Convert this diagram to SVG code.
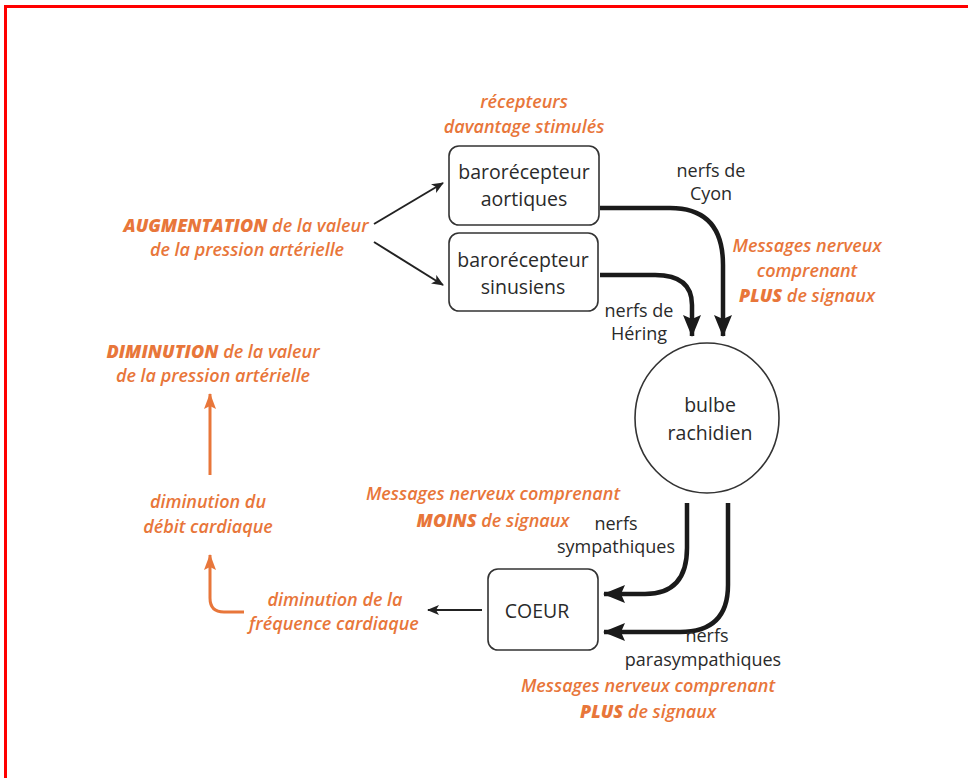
<svg xmlns="http://www.w3.org/2000/svg" width="968" height="778" viewBox="0 0 968 778">
<style>
.bk{font-family:"Open Sans","Liberation Sans",sans-serif;font-size:19.5px;fill:#2a2a2a;text-anchor:middle}
.sm{font-family:"Open Sans","Liberation Sans",sans-serif;font-size:18px;fill:#2a2a2a;text-anchor:middle}
.or{font-family:"Open Sans","Liberation Sans",sans-serif;font-size:18px;font-style:italic;font-weight:600;fill:#E8763A;text-anchor:middle}
.b{font-weight:800}
.box{fill:#fff;stroke:#333;stroke-width:1.6}
.thin{fill:none;stroke:#222;stroke-width:2}
.thick{fill:none;stroke:#1a1a1a;stroke-width:4.5}
.org{fill:none;stroke:#E8763A;stroke-width:3}
</style>
<defs>
<marker id="ah" viewBox="0 0 12 10" refX="11" refY="5" markerWidth="12" markerHeight="10" markerUnits="userSpaceOnUse" orient="auto">
<path d="M0,0 L12,5 L0,10 L3,5 Z" fill="#222"/>
</marker>
<marker id="ahT" viewBox="0 0 22 18" refX="21" refY="9" markerWidth="22" markerHeight="18" markerUnits="userSpaceOnUse" orient="auto">
<path d="M0,0 L22,9 L0,18 L4,9 Z" fill="#1a1a1a"/>
</marker>
<marker id="ahO" viewBox="0 0 16 12" refX="15" refY="6" markerWidth="16" markerHeight="12" markerUnits="userSpaceOnUse" orient="auto">
<path d="M0,0 L16,6 L0,12 L3,6 Z" fill="#E8763A"/>
</marker>
</defs>
<rect width="968" height="778" fill="#fff"/>
<path d="M5.5,778 V6.5 H968" fill="none" stroke="#FF0000" stroke-width="3"/>

<g id="connectors">
<path class="thin" d="M374,224 L443,183" marker-end="url(#ah)"/>
<path class="thin" d="M374,242 L443,285" marker-end="url(#ah)"/>
<path class="thick" d="M600,208 H670 Q723,208 723,265 V336" marker-end="url(#ahT)"/>
<path class="thick" d="M600,275 H655 Q692,275 692,305 V336" marker-end="url(#ahT)"/>
<path class="thick" d="M687,503 V548 Q687,594 645,594 H604" marker-end="url(#ahT)"/>
<path class="thick" d="M728,503 V585 Q728,632 680,632 H604" marker-end="url(#ahT)"/>
<path class="thin" d="M482,610 H428" marker-end="url(#ah)"/>
<path class="org" d="M210,475 V394" marker-end="url(#ahO)"/>
<path class="org" d="M244,612 H224 Q210,612 210,598 V555" marker-end="url(#ahO)"/>
</g>

<g id="recepteurs-label">
<text class="or" x="524" y="108">récepteurs</text>
<text class="or" x="524" y="133">davantage stimulés</text>
</g>
<g id="baro-aortiques">
<rect class="box" x="449" y="146" width="150" height="79" rx="10"/>
<text class="bk" x="524" y="179">barorécepteur</text>
<text class="bk" x="524" y="206">aortiques</text>
</g>
<g id="baro-sinusiens">
<rect class="box" x="449" y="233" width="149" height="78" rx="10"/>
<text class="bk" x="523" y="267">barorécepteur</text>
<text class="bk" x="523" y="294">sinusiens</text>
</g>
<g id="augmentation">
<text class="or" x="246" y="232"><tspan class="b">AUGMENTATION</tspan> de la valeur</text>
<text class="or" x="247" y="256">de la pression artérielle</text>
</g>
<g id="cyon">
<text class="sm" x="711" y="177">nerfs de</text>
<text class="sm" x="711" y="200">Cyon</text>
</g>
<g id="messages-plus-top">
<text class="or" x="807" y="252">Messages nerveux</text>
<text class="or" x="807" y="277">comprenant</text>
<text class="or" x="807" y="302"><tspan class="b">PLUS</tspan> de signaux</text>
</g>
<g id="hering">
<text class="sm" x="639" y="317">nerfs de</text>
<text class="sm" x="639" y="340">Héring</text>
</g>
<g id="bulbe">
<ellipse cx="707" cy="418" rx="72" ry="75" fill="#fff" stroke="#333" stroke-width="1.6"/>
<text class="bk" x="710" y="412">bulbe</text>
<text class="bk" x="710" y="440">rachidien</text>
</g>
<g id="diminution-pa">
<text class="or" x="213" y="358"><tspan class="b">DIMINUTION</tspan> de la valeur</text>
<text class="or" x="213" y="382">de la pression artérielle</text>
</g>
<g id="debit">
<text class="or" x="208" y="508">diminution du</text>
<text class="or" x="208" y="533">débit cardiaque</text>
</g>
<g id="frequence">
<text class="or" x="335" y="606">diminution de la</text>
<text class="or" x="334" y="630">fréquence cardiaque</text>
</g>
<g id="messages-moins">
<text class="or" x="493" y="500">Messages nerveux comprenant</text>
<text class="or" x="493" y="527"><tspan class="b">MOINS</tspan> de signaux</text>
</g>
<g id="sympathiques">
<text class="sm" x="616" y="530">nerfs</text>
<text class="sm" x="616" y="553">sympathiques</text>
</g>
<g id="coeur">
<rect class="box" x="488" y="569" width="110" height="81" rx="10"/>
<text class="bk" x="537" y="618">COEUR</text>
</g>
<g id="parasympathiques">
<text class="sm" x="707" y="642">nerfs</text>
<text class="sm" x="703" y="666">parasympathiques</text>
</g>
<g id="messages-plus-bottom">
<text class="or" x="648" y="692">Messages nerveux comprenant</text>
<text class="or" x="648" y="718"><tspan class="b">PLUS</tspan> de signaux</text>
</g>
</svg>
